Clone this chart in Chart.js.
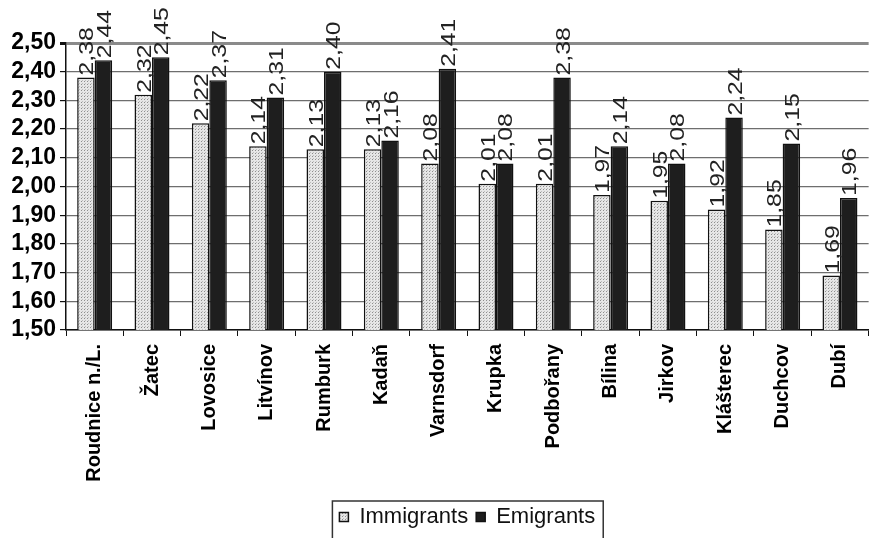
<!DOCTYPE html>
<html lang="cs">
<head>
  <meta charset="UTF-8">
  <title>Immigrants / Emigrants</title>
  <style>
    html, body { margin: 0; padding: 0; background: #fff; }
    #lienzo-box { width: 872px; height: 538px; }
  </style>
</head>
<body>
  <div id="lienzo-box">
    <canvas id="grafico"></canvas>
  </div>

  <script src="https://cdn.jsdelivr.net/npm/chart.js"></script>

  <script>
    // datos
    const mesta = ['Roudnice n./L.', 'Žatec', 'Lovosice', 'Litvínov', 'Rumburk', 'Kadaň', 'Varnsdorf',
                   'Krupka', 'Podbořany', 'Bílina', 'Jirkov', 'Klášterec', 'Duchcov', 'Dubí'];
    const imigranti = [2.38, 2.32, 2.22, 2.14, 2.13, 2.13, 2.08, 2.01, 2.01, 1.97, 1.95, 1.92, 1.85, 1.69];
    const emigranti = [2.44, 2.45, 2.37, 2.31, 2.40, 2.16, 2.41, 2.08, 2.38, 2.14, 2.08, 2.24, 2.15, 1.96];
    const nazvySerii = ['Immigrants', 'Emigrants'];
    const osaY = { min: 1.5, max: 2.5, krok: 0.1 };

    const formato = v => v.toFixed(2).replace('.', ',');

    // trama punteada para las barras claras
    function crearTrama() {
      const c = document.createElement('canvas');
      c.width = 3; c.height = 3;
      const g = c.getContext('2d');
      g.fillStyle = '#e6e6e6';
      g.fillRect(0, 0, 3, 3);
      g.fillStyle = '#8e8e8e';
      g.fillRect(0, 0, 1, 1);
      g.fillStyle = '#bdbdbd';
      g.fillRect(1, 2, 1, 1);
      return g.createPattern(c, 'repeat');
    }

    document.addEventListener("DOMContentLoaded", () => {
      const lienzo = document.querySelector("#grafico");
      const trama = crearTrama();

      // etiquetas verticales encima de cada barra
      const etiquetasPlugin = {
        id: 'etiquetas',
        afterDatasetsDraw(chart) {
          const ctx = chart.ctx;
          chart.data.datasets.forEach((ds, i) => {
            chart.getDatasetMeta(i).data.forEach((bar, j) => {
              ctx.save();
              ctx.translate(bar.x, bar.y - 2);
              ctx.rotate(-Math.PI / 2);
              ctx.scale(1.18, 1);
              ctx.font = '21px "Liberation Sans", Arial, sans-serif';
              ctx.fillStyle = '#222';
              ctx.textAlign = 'left';
              ctx.textBaseline = 'alphabetic';
              ctx.fillText(formato(ds.data[j]), 0, 7.5);
              ctx.restore();
            });
          });
        }
      };

      // marco alrededor de la leyenda
      const marcoLeyenda = {
        id: 'marcoLeyenda',
        afterDraw(chart) {
          const cajas = chart.legend.legendHitBoxes;
          if (!cajas || !cajas.length) return;
          const izq = Math.min(...cajas.map(b => b.left)) - 7;
          const der = Math.max(...cajas.map(b => b.left + b.width)) + 8;
          const arriba = Math.min(...cajas.map(b => b.top)) - 5;
          const ctx = chart.ctx;
          ctx.save();
          ctx.strokeStyle = '#333';
          ctx.lineWidth = 1.5;
          ctx.strokeRect(izq, arriba, der - izq, 60);
          ctx.restore();
        }
      };

      new Chart(lienzo, {
        type: 'bar',
        data: {
          labels: mesta,
          datasets: [
            {
              label: nazvySerii[0],
              data: imigranti,
              backgroundColor: trama,
              borderColor: '#111',
              borderWidth: 1.5,
              borderSkipped: false
            },
            {
              label: nazvySerii[1],
              data: emigranti,
              backgroundColor: '#1e1e1e',
              borderColor: '#111',
              borderWidth: 1.5,
              borderSkipped: false
            }
          ]
        },
        options: {
          responsive: true,
          maintainAspectRatio: false,
          animation: false,
          categoryPercentage: 0.61,
          barPercentage: 1,
          layout: { padding: { top: 43, right: 1, left: 0, bottom: 0 } },
          plugins: {
            tooltip: { enabled: false },
            legend: {
              position: 'bottom',
              fullSize: false,
              labels: {
                boxWidth: 9,
                boxHeight: 9,
                padding: 8,
                color: '#111',
                font: { family: '"Liberation Sans", Arial, sans-serif', size: 22 }
              }
            }
          },
          scales: {
            x: {
              afterFit: s => { s.height = 168; },
              grid: { display: true, drawOnChartArea: false, color: '#111', tickLength: 6, offset: true },
              border: { color: '#111', width: 1.5 },
              ticks: {
                minRotation: 90,
                maxRotation: 90,
                autoSkip: false,
                padding: 8,
                color: '#000',
                font: { family: '"Liberation Sans", Arial, sans-serif', size: 20, weight: 'bold' }
              }
            },
            y: {
              min: osaY.min,
              max: osaY.max,
              afterFit: s => { s.width = 66; },
              grid: {
                color: ctx => ctx.tick && Math.abs(ctx.tick.value - osaY.max) < 1e-6 ? '#8a8a8a' : '#6e6e6e',
                lineWidth: ctx => ctx.tick && Math.abs(ctx.tick.value - osaY.max) < 1e-6 ? 3 : 1.2,
                tickLength: 6,
                tickColor: '#111'
              },
              border: { color: '#111', width: 1.5 },
              ticks: {
                stepSize: osaY.krok,
                autoSkip: false,
                padding: 4,
                color: '#000',
                font: { family: '"Liberation Sans", Arial, sans-serif', size: 23, weight: 'bold' },
                callback: v => formato(v)
              }
            }
          }
        },
        plugins: [etiquetasPlugin, marcoLeyenda]
      });
    });
  </script>
</body>
</html>
